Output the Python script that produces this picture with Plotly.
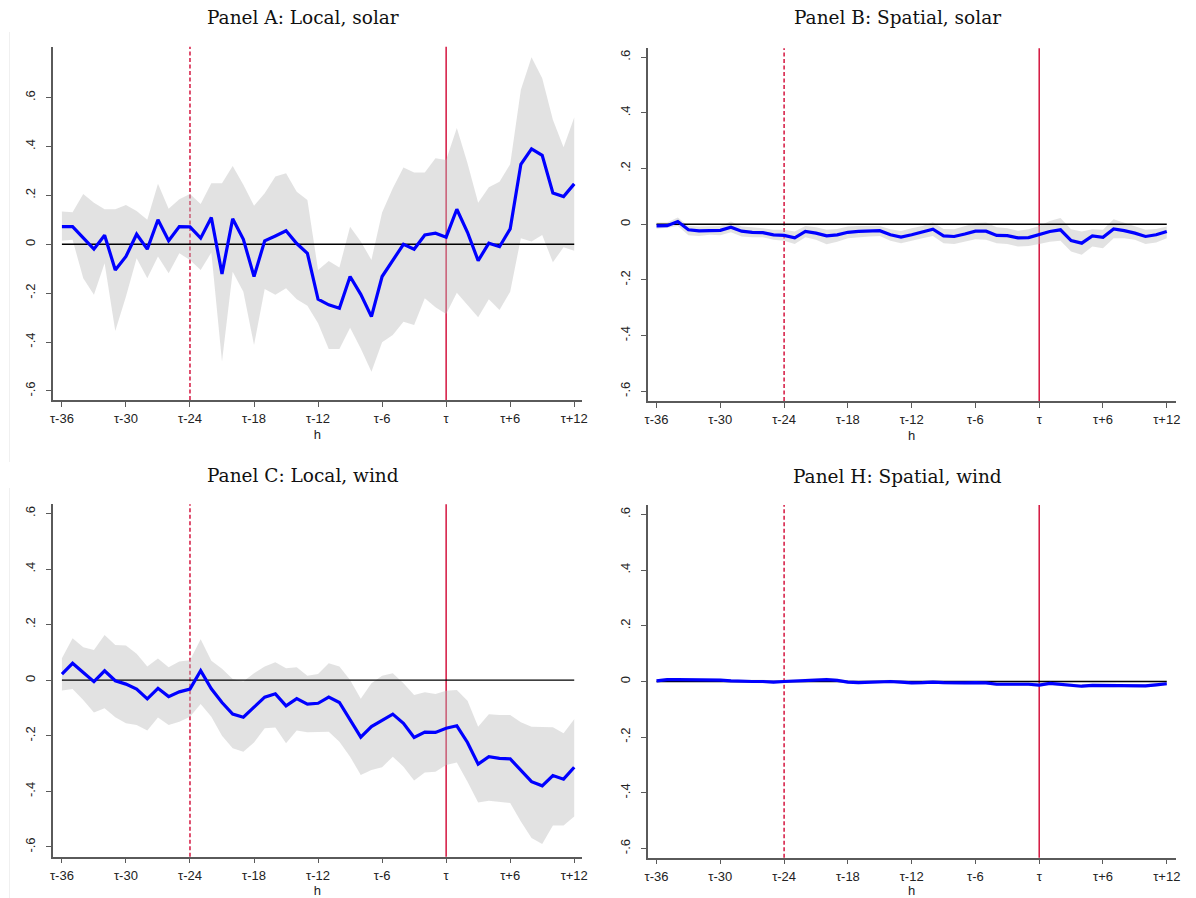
import plotly.graph_objects as go

# ---------------- data ----------------
h = list(range(-36, 13))
x_tickvals = [-36, -30, -24, -18, -12, -6, 0, 6, 12]
x_ticktext = ["τ-36", "τ-30", "τ-24", "τ-18", "τ-12", "τ-6", "τ", "τ+6", "τ+12"]
y_tickvals = [-0.6, -0.4, -0.2, 0, 0.2, 0.4, 0.6]
y_ticktext = ["-.6", "-.4", "-.2", "0", ".2", ".4", ".6"]
titles = ["Panel A: Local, solar", "Panel B: Spatial, solar",
          "Panel C: Local, wind", "Panel H: Spatial, wind"]

A_coef = [0.072, 0.072, 0.026, -0.02, 0.037, -0.105, -0.05, 0.041, -0.02, 0.10, 0.014, 0.072,
          0.071, 0.025, 0.109, -0.121, 0.104, 0.02, -0.132, 0.014, 0.034, 0.055, 0.003,
          -0.037, -0.225, -0.248, -0.262, -0.132, -0.205, -0.296, -0.132, -0.068, 0.0, -0.02,
          0.038, 0.045, 0.029, 0.143, 0.049, -0.067, 0.004, -0.01, 0.063, 0.327, 0.39, 0.364,
          0.21, 0.195, 0.247]
A_hi = [0.134, 0.131, 0.206, 0.17, 0.143, 0.143, 0.161, 0.136, 0.1, 0.247, 0.145, 0.184,
        0.206, 0.165, 0.25, 0.25, 0.32, 0.243, 0.157, 0.209, 0.277, 0.29, 0.215,
        0.181, -0.105, -0.068, -0.095, 0.072, 0.011, -0.064, 0.13, 0.229, 0.314, 0.293,
        0.293, 0.352, 0.345, 0.475, 0.331, 0.17, 0.233, 0.256, 0.327, 0.632, 0.765, 0.679,
        0.509, 0.397, 0.518]
A_lo = [0.014, 0.018, -0.139, -0.207, -0.078, -0.355, -0.214, -0.057, -0.139, -0.05, -0.119,
        -0.037, -0.064, -0.105, -0.034, -0.48, -0.112, -0.194, -0.412, -0.183, -0.207, -0.18,
        -0.225, -0.252, -0.323, -0.428, -0.428, -0.341, -0.426, -0.521, -0.401, -0.371,
        -0.317, -0.33, -0.221, -0.258, -0.285, -0.198, -0.248, -0.299, -0.225, -0.269,
        -0.194, 0.025, 0.011, 0.038, -0.074, -0.012, -0.027]

B_coef = [-0.006, -0.005, 0.01, -0.02, -0.024, -0.022, -0.022, -0.011, -0.025, -0.029, -0.03,
          -0.038, -0.04, -0.049, -0.026, -0.032, -0.042, -0.038, -0.029, -0.026, -0.025,
          -0.023, -0.038, -0.046, -0.038, -0.029, -0.018, -0.042, -0.044, -0.035, -0.025,
          -0.025, -0.04, -0.041, -0.049, -0.048, -0.037, -0.026, -0.02, -0.059, -0.068,
          -0.042, -0.047, -0.017, -0.023, -0.032, -0.044, -0.038, -0.026]
B_hi = [0.006, 0.006, 0.024, -0.006, -0.008, -0.008, -0.006, 0.01, -0.008, -0.011, -0.014,
        -0.02, -0.02, -0.026, -0.006, -0.011, -0.02, -0.017, -0.008, -0.006, -0.006, -0.006,
        -0.018, -0.024, -0.014, -0.006, 0.007, -0.017, -0.018, -0.008, 0.004, 0.006, -0.011,
        -0.014, -0.023, -0.018, -0.006, 0.012, 0.022, -0.018, -0.026, -0.018, -0.02, 0.018,
        0.006, -0.008, -0.02, -0.017, -0.008]
B_lo = [-0.016, -0.013, -0.006, -0.04, -0.042, -0.038, -0.04, -0.029, -0.044, -0.047, -0.047,
        -0.056, -0.059, -0.071, -0.047, -0.056, -0.072, -0.063, -0.05, -0.047, -0.044, -0.042,
        -0.059, -0.068, -0.06, -0.05, -0.042, -0.068, -0.071, -0.062, -0.054, -0.056, -0.068,
        -0.071, -0.08, -0.078, -0.071, -0.063, -0.059, -0.098, -0.11, -0.08, -0.086, -0.05,
        -0.05, -0.056, -0.071, -0.066, -0.05]

C_coef = [0.022, 0.061, 0.028, -0.005, 0.034, -0.002, -0.014, -0.032, -0.067, -0.029, -0.059,
          -0.042, -0.032, 0.034, -0.031, -0.08, -0.122, -0.133, -0.097, -0.061, -0.049, -0.092,
          -0.066, -0.086, -0.083, -0.061, -0.08, -0.14, -0.205, -0.167, -0.146, -0.122, -0.155,
          -0.206, -0.187, -0.188, -0.173, -0.164, -0.224, -0.302, -0.275, -0.281, -0.283,
          -0.326, -0.365, -0.38, -0.343, -0.356, -0.313]
C_hi = [0.079, 0.151, 0.119, 0.109, 0.163, 0.127, 0.125, 0.095, 0.049, 0.078, 0.047, 0.067,
        0.072, 0.147, 0.07, 0.041, 0.004, -0.005, 0.025, 0.049, 0.065, 0.043, 0.047,
        0.016, 0.022, 0.061, 0.049, 0.001, -0.067, -0.011, 0.016, 0.025, -0.011, -0.053,
        -0.043, -0.05, -0.038, -0.035, -0.074, -0.167, -0.122, -0.125, -0.125, -0.151,
        -0.167, -0.169, -0.169, -0.191, -0.14]
C_lo = [-0.037, -0.032, -0.071, -0.116, -0.101, -0.133, -0.155, -0.161, -0.181, -0.134, -0.161,
        -0.149, -0.131, -0.086, -0.131, -0.2, -0.245, -0.257, -0.224, -0.173, -0.17, -0.227,
        -0.181, -0.187, -0.187, -0.185, -0.221, -0.275, -0.341, -0.323, -0.313, -0.275,
        -0.311, -0.361, -0.332, -0.329, -0.305, -0.296, -0.365, -0.44, -0.434, -0.439,
        -0.442, -0.508, -0.568, -0.589, -0.523, -0.523, -0.49]

H_coef = [0.002, 0.007, 0.007, 0.007, 0.007, 0.005, 0.005, 0.002, 0.0, 0.0, 0.0, -0.002, 0.0,
          0.002, 0.002, 0.004, 0.007, 0.004, -0.002, -0.004, -0.002, -0.001, 0.0, -0.002,
          -0.005, -0.004, -0.002, -0.004, -0.005, -0.005, -0.004, -0.005, -0.01, -0.011,
          -0.01, -0.01, -0.013, -0.007, -0.011, -0.014, -0.017, -0.014, -0.014, -0.016,
          -0.014, -0.016, -0.016, -0.012, -0.008]
H_hi = [0.008, 0.012, 0.012, 0.012, 0.012, 0.011, 0.010, 0.008, 0.006, 0.006, 0.006, 0.004,
        0.006, 0.008, 0.008, 0.010, 0.013, 0.010, 0.004, 0.002, 0.004, 0.005, 0.006, 0.004,
        0.001, 0.002, 0.004, 0.002, 0.001, 0.001, 0.002, 0.001, -0.004, -0.005, -0.004,
        -0.004, -0.007, -0.001, -0.005, -0.008, -0.011, -0.008, -0.008, -0.010, -0.008,
        -0.010, -0.010, -0.006, -0.002]
H_lo = [-0.004, 0.001, 0.001, 0.001, 0.001, -0.001, -0.001, -0.004, -0.006, -0.006, -0.006,
        -0.008, -0.006, -0.004, -0.004, -0.002, 0.001, -0.002, -0.008, -0.010, -0.008,
        -0.007, -0.006, -0.008, -0.011, -0.010, -0.008, -0.010, -0.011, -0.011, -0.010,
        -0.011, -0.016, -0.017, -0.016, -0.016, -0.019, -0.013, -0.017, -0.020, -0.023,
        -0.020, -0.020, -0.022, -0.020, -0.022, -0.022, -0.018, -0.014]

panels = [
    (A_coef, A_hi, A_lo),
    (B_coef, B_hi, B_lo),
    (C_coef, C_hi, C_lo),
    (H_coef, H_hi, H_lo),
]
for c, u, l in panels:
    assert len(c) == len(u) == len(l) == len(h)

# ---------------- layout geometry (pixels) ----------------
W, H = 1196, 898
# (x0, x1, ytop, ybottom, yrange)
geo = [
    (50.0, 583.3, 46.7, 400.0, [-0.637, 0.808]),
    (649.4, 1181.7, 48.3, 401.0, [-0.635, 0.632]),
    (50.0, 583.3, 504.3, 856.7, [-0.635, 0.633]),
    (649.4, 1181.7, 505.0, 857.7, [-0.633, 0.634]),
]
xranges = [[-36.87, 12.72], [-36.85, 12.85], [-36.87, 12.72], [-36.85, 12.85]]
title_pos = [(302, 18), (901, 18), (302, 475), (901, 476)]

RED = "#D4153F"
BAND = "rgba(185,185,185,0.42)"
AXC = "#5a5a5a"
TICKFONT = dict(family="Liberation Sans, Arial, sans-serif", size=13, color="#222222")

fig = go.Figure()
shapes = []
annotations = []

for i, ((coef, hi, lo), (x0, x1, yt, yb, yr)) in enumerate(zip(panels, geo)):
    n = i + 1
    xa = "x" if n == 1 else f"x{n}"
    ya = "y" if n == 1 else f"y{n}"
    # confidence band
    fig.add_trace(go.Scatter(
        x=h + h[::-1], y=hi + lo[::-1], fill="toself", fillcolor=BAND,
        line=dict(width=0), mode="lines", hoverinfo="skip", showlegend=False,
        xaxis=xa, yaxis=ya))
    # zero line
    fig.add_trace(go.Scatter(
        x=[h[0], h[-1]], y=[0, 0], mode="lines", line=dict(color="black", width=1.3),
        showlegend=False, hoverinfo="skip", xaxis=xa, yaxis=ya))
    # estimate
    fig.add_trace(go.Scatter(
        x=h, y=coef, mode="lines", line=dict(color="#0000FF", width=3.2),
        showlegend=False, xaxis=xa, yaxis=ya))

    xkey = "xaxis" if n == 1 else f"xaxis{n}"
    ykey = "yaxis" if n == 1 else f"yaxis{n}"
    fig.update_layout(**{
        xkey: dict(
            domain=[x0 / W, x1 / W], anchor=ya, range=xranges[i],
            tickmode="array", tickvals=x_tickvals, ticktext=x_ticktext,
            ticks="outside", ticklen=5, tickwidth=1.2, tickcolor=AXC,
            showline=True, linecolor=AXC, linewidth=1.5, showgrid=False,
            zeroline=False, tickfont=TICKFONT, ticklabelstandoff=1,
            title=dict(text="h", font=dict(family="Liberation Sans, Arial, sans-serif",
                                           size=13, color="#222222"), standoff=5),
        ),
        ykey: dict(
            domain=[1 - yb / H, 1 - yt / H], anchor=xa, range=yr,
            tickmode="array", tickvals=y_tickvals, ticktext=y_ticktext, tickangle=-90,
            ticks="outside", ticklen=5, tickwidth=1.2, tickcolor=AXC,
            showline=True, linecolor=AXC, linewidth=1.5, showgrid=False,
            zeroline=False, tickfont=TICKFONT, ticklabelstandoff=6,
        ),
    })
    # vertical reference lines
    shapes.append(dict(type="line", xref=xa, yref=f"{ya} domain", x0=-24, x1=-24, y0=0, y1=1,
                       line=dict(color=RED, width=1.5, dash="4px,2.5px"), layer="below"))
    shapes.append(dict(type="line", xref=xa, yref=f"{ya} domain", x0=0, x1=0, y0=0, y1=1,
                       line=dict(color=RED, width=1.5), layer="below"))
    tx, ty = title_pos[i]
    annotations.append(dict(text=titles[i], x=tx / W, y=1 - ty / H, xref="paper", yref="paper",
                            xanchor="center", yanchor="middle", showarrow=False,
                            font=dict(family="DejaVu Serif, Liberation Serif, serif",
                                      size=18.5, color="#111111")))

# faint graph-region borders on the left panels
shapes.append(dict(type="line", xref="paper", yref="paper", x0=6.5 / W, x1=6.5 / W,
                   y0=1 - 462 / H, y1=1 - 32 / H, line=dict(color="#f0f0f0", width=1)))
shapes.append(dict(type="line", xref="paper", yref="paper", x0=6.5 / W, x1=6.5 / W,
                   y0=1 - 898 / H, y1=1 - 488 / H, line=dict(color="#f0f0f0", width=1)))

fig.update_layout(
    width=W, height=H, margin=dict(l=0, r=0, t=0, b=0),
    paper_bgcolor="white", plot_bgcolor="white",
    shapes=shapes, annotations=annotations, showlegend=False,
)

fig.write_html(
    "out.html",
    config={"displayModeBar": False},
    post_script="document.body.style.margin='0';document.body.style.padding='0';"
                "document.body.style.overflow='hidden';",
)
